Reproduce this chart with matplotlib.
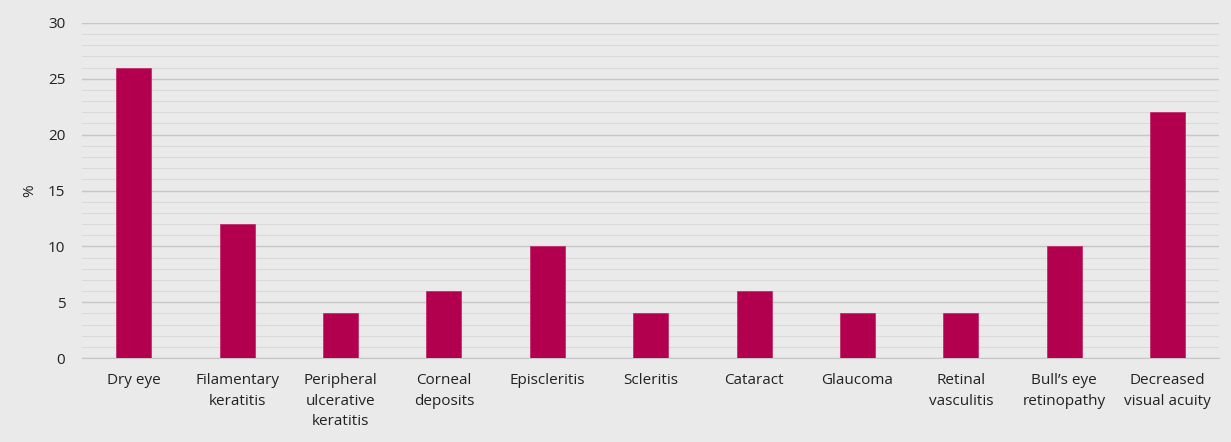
import matplotlib
matplotlib.use("Agg")
import matplotlib.pyplot as plt
from matplotlib.ticker import MultipleLocator

categories = ["Dry eye", "Filamentary\nkeratitis", "Peripheral\nulcerative\nkeratitis",
              "Corneal\ndeposits", "Episcleritis", "Scleritis", "Cataract", "Glaucoma",
              "Retinal\nvasculitis", "Bull\u2019s eye\nretinopathy", "Decreased\nvisual acuity"]
values = [26, 12, 4, 6, 10, 4, 6, 4, 4, 10, 22]
yticks = [0, 5, 10, 15, 20, 25, 30]

bg = "#eaeaea"
fig = plt.figure(figsize=(12.31, 4.42), dpi=100, facecolor=bg)
ax = fig.add_axes([0.0666, 0.19, 0.924, 0.758], facecolor=bg)

x = list(range(len(categories)))
ax.bar(x, values, width=0.34, color="#b3004e", edgecolor="#c2306a", linewidth=0.6, zorder=3)

ax.set_ylim(0, 30)
ax.set_xlim(-0.5, len(categories) - 0.5)
ax.set_yticks(yticks)
ax.yaxis.set_minor_locator(MultipleLocator(1))
ax.grid(axis="y", which="major", color="#c6c6c6", linewidth=1.0, zorder=0)
ax.grid(axis="y", which="minor", color="#dadada", linewidth=0.8, zorder=0)
ax.set_xticks(x)
ax.set_xticklabels(categories, fontsize=11, color="#222222", family="Open Sans", linespacing=1.5)
for lbl in ax.get_yticklabels():
    lbl.set_fontsize(11)
    lbl.set_color("#222222")
    lbl.set_family("Open Sans")
ax.tick_params(axis="both", which="both", length=0)
ax.tick_params(axis="x", pad=11)
ax.tick_params(axis="y", pad=12)
for s in ["top", "right", "left"]:
    ax.spines[s].set_visible(False)
ax.spines["bottom"].set_color("#c6c6c6")
ax.set_ylabel("%", fontsize=11, color="#222222", family="Open Sans", labelpad=8)

fig.savefig("out.png", dpi=100, facecolor=bg)
